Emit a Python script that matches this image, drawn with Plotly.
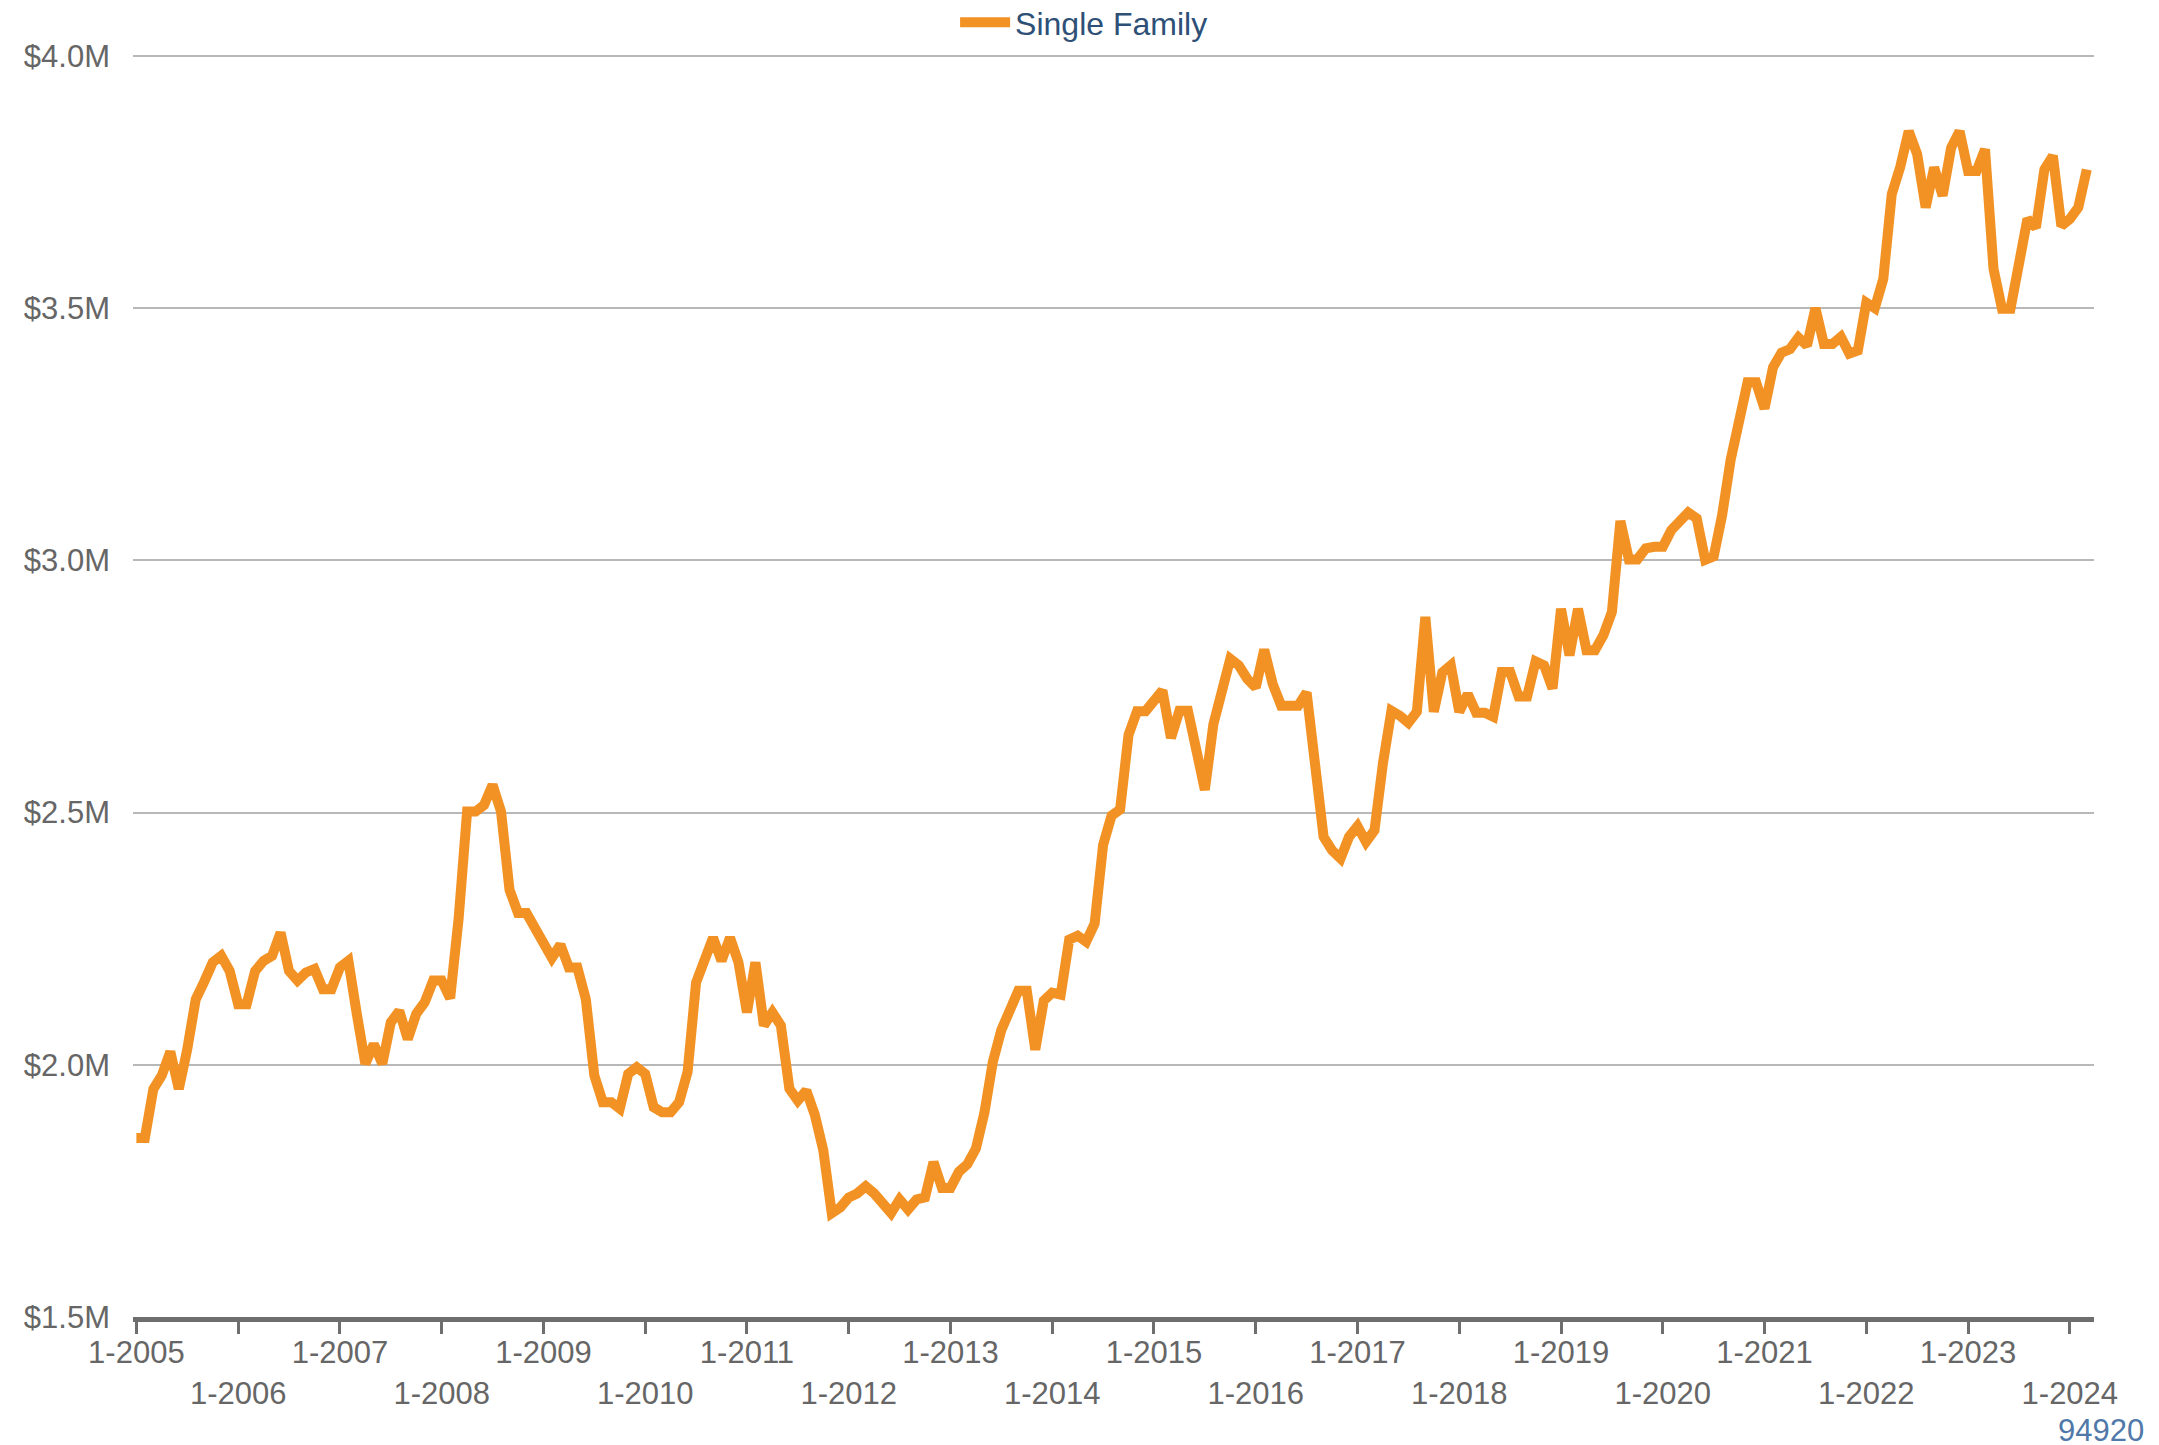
import plotly.graph_objects as go

# ---- data (values in $ millions), monthly Jan-2005 .. Mar-2024 ----
values = [
    1.855, 1.855, 1.952, 1.979, 2.026, 1.952, 2.031, 2.130, 2.165, 2.203, 2.216, 2.186,  # 2005
    2.120, 2.120, 2.186, 2.206, 2.216, 2.262, 2.186, 2.167, 2.183, 2.190, 2.150, 2.150,  # 2006
    2.193, 2.206, 2.100, 2.002, 2.041, 2.002, 2.084, 2.107, 2.051, 2.101, 2.124, 2.167,  # 2007
    2.167, 2.132, 2.290, 2.502, 2.502, 2.515, 2.555, 2.502, 2.347, 2.301, 2.301, 2.271,  # 2008
    2.242, 2.212, 2.238, 2.193, 2.193, 2.130, 1.979, 1.926, 1.926, 1.913, 1.982, 1.995,  # 2009
    1.982, 1.916, 1.906, 1.906, 1.926, 1.986, 2.163, 2.206, 2.252, 2.206, 2.252, 2.203,  # 2010
    2.104, 2.203, 2.078, 2.104, 2.078, 1.953, 1.929, 1.949, 1.901, 1.831, 1.706, 1.717,  # 2011
    1.737, 1.745, 1.759, 1.745, 1.725, 1.706, 1.733, 1.713, 1.733, 1.737, 1.807, 1.756,  # 2012
    1.756, 1.788, 1.803, 1.834, 1.905, 2.006, 2.069, 2.110, 2.147, 2.147, 2.030, 2.127,  # 2013
    2.143, 2.139, 2.248, 2.256, 2.244, 2.280, 2.436, 2.494, 2.506, 2.654, 2.701, 2.701,  # 2014
    2.718, 2.742, 2.648, 2.702, 2.702, 2.610, 2.545, 2.675, 2.740, 2.805, 2.792, 2.765,  # 2015
    2.748, 2.823, 2.755, 2.712, 2.712, 2.712, 2.738, 2.598, 2.452, 2.425, 2.409, 2.452,  # 2016
    2.473, 2.442, 2.465, 2.598, 2.702, 2.692, 2.678, 2.700, 2.888, 2.700, 2.778, 2.792,  # 2017
    2.700, 2.735, 2.698, 2.698, 2.690, 2.779, 2.779, 2.730, 2.730, 2.800, 2.792, 2.746,  # 2018
    2.904, 2.812, 2.904, 2.822, 2.822, 2.852, 2.898, 3.078, 3.002, 3.002, 3.024, 3.027,  # 2019
    3.027, 3.060, 3.080, 3.095, 3.083, 3.001, 3.008, 3.090, 3.199, 3.268, 3.353, 3.353,  # 2020
    3.301, 3.383, 3.412, 3.419, 3.442, 3.426, 3.500, 3.429, 3.429, 3.443, 3.410, 3.416,  # 2021
    3.511, 3.500, 3.558, 3.726, 3.780, 3.851, 3.805, 3.700, 3.779, 3.723, 3.818, 3.851,  # 2022
    3.772, 3.772, 3.815, 3.578, 3.499, 3.499, 3.580, 3.677, 3.660, 3.775, 3.802, 3.663,  # 2023
    3.677, 3.700, 3.775,                                                                 # 2024
]

years = list(range(2005, 2025))
months = [f"{m}-{y}" for y in years for m in range(1, 13)][: len(values)]

tick_vals = [f"1-{y}" for y in years]
tick_text = [(f"1-{y}" if i % 2 == 0 else f"<br>1-{y}") for i, y in enumerate(years)]

y_ticks = [1.5, 2.0, 2.5, 3.0, 3.5, 4.0]
y_tick_text = ["$1.5M", "$2.0M", "$2.5M", "$3.0M", "$3.5M", "$4.0M"]
series_name = "Single Family"
footer_text = "94920"

FONT = "Liberation Sans, Arial, Helvetica, sans-serif"
ORANGE = "#F39224"

fig = go.Figure()
fig.add_trace(go.Scatter(
    x=months, y=values, mode="lines", name=series_name,
    line=dict(color=ORANGE, width=10),
))

# the page body adds an 8px margin, so the figure is 8px smaller than the window
fig.update_layout(
    width=2151, height=1437,
    margin=dict(l=125, r=65, t=46, b=128, autoexpand=False),
    paper_bgcolor="white", plot_bgcolor="white",
    font=dict(family=FONT, size=31, color="#666666"),
    showlegend=True,
    legend=dict(
        orientation="h", xref="container", yref="paper",
        x=0.4403, y=1.025, xanchor="left", yanchor="middle",
        font=dict(size=32, color="#2E5077", family=FONT),
        itemwidth=50, bgcolor="rgba(0,0,0,0)",
    ),
    xaxis=dict(
        type="category", categoryorder="array", categoryarray=months,
        range=[-0.4, len(values) - 1 + 0.85],
        tickmode="array", tickvals=tick_vals, ticktext=tick_text,
        ticks="outside", ticklen=12, tickwidth=3, tickcolor="#6E6E6E",
        showline=True, linecolor="#6E6E6E", linewidth=5,
        showgrid=False, zeroline=False,
        ticklabelstandoff=-8,
        tickfont=dict(size=31, color="#666666"),
    ),
    yaxis=dict(
        range=[1.5, 4.004], tickmode="array", tickvals=y_ticks, ticktext=y_tick_text,
        showgrid=True, gridcolor="#B8B8B8", gridwidth=2,
        zeroline=False, showline=False, ticks="",
        ticklabelstandoff=22,
        tickfont=dict(size=31, color="#666666"),
    ),
    annotations=[dict(
        text=footer_text, xref="paper", yref="paper",
        x=1.0265, y=-0.0895, xanchor="right", yanchor="middle",
        showarrow=False, font=dict(size=31, color="#5078A8", family=FONT),
    )],
)

fig.write_html("out.html")
